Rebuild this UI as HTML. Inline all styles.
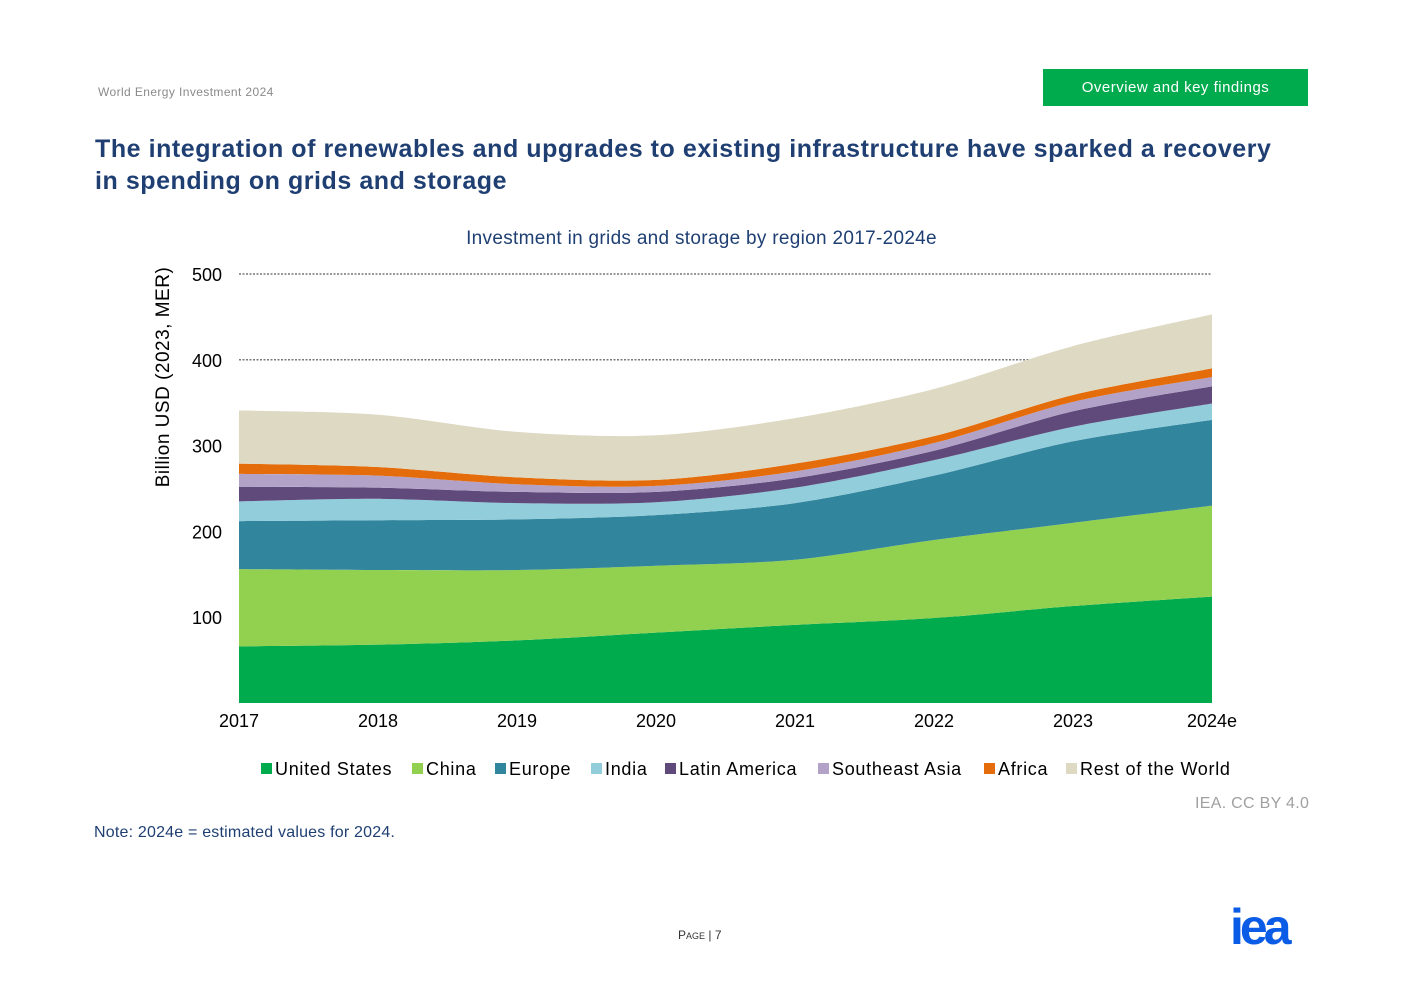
<!DOCTYPE html>
<html><head><meta charset="utf-8"><style>
body{margin:0;width:1403px;height:992px;background:#fff;font-family:"Liberation Sans",Arial,sans-serif;position:relative;overflow:hidden}
.abs{position:absolute}
</style></head><body>
<div class="abs" style="left:98px;top:85px;font-size:12px;color:#8a8a8a;letter-spacing:0.4px">World Energy Investment 2024</div>
<div class="abs" style="left:1043px;top:69px;width:265px;height:37px;background:#00ab4e;color:#fff;font-size:15px;line-height:37px;text-align:center;letter-spacing:0.5px">Overview and key findings</div>
<div class="abs" style="left:95px;top:133px;width:1205px;font-size:25px;font-weight:bold;color:#1f3f73;line-height:32px;letter-spacing:0.55px">The integration of renewables and upgrades to existing infrastructure have sparked a recovery in spending on grids and storage</div>
<div class="abs" style="left:0;width:1403px;top:228px;text-align:center;font-size:19px;color:#1f3f73;letter-spacing:0.3px">Investment in grids and storage by region 2017-2024e</div>
<svg class="abs" style="left:0;top:0" width="1403" height="992" id="chart"></svg>
<div class="abs" style="left:1195px;top:795px;font-size:16px;color:#a0a0a0;letter-spacing:0.3px">IEA. CC BY 4.0</div>
<div class="abs" style="left:94px;top:824px;font-size:16px;color:#1f3f73;letter-spacing:0.2px">Note: 2024e = estimated values for 2024.</div>
<div class="abs" style="left:678px;top:928px;font-size:12px;color:#333">P<span style="font-size:9px">AGE</span> | 7</div>
<div class="abs" style="left:1230px;top:898px;font-size:50px;font-weight:bold;color:#0a5ce6;letter-spacing:-4px">iea</div>
<script>
const years=["2017","2018","2019","2020","2021","2022","2023","2024e"];
const unitedStates=[66,68,73,82,91,99,113,124];
const china=[90,87,82,78,76,91,97,106];
const europe=[56,58,59,59,66,75,95,100];
const india=[23,25,19,15,18,18,17,19];
const latinAmerica=[17,13,13,12,11,11,18,20];
const southeastAsia=[15,14,9,7,8,9,11,11];
const africa=[12,10,8,7,9,8,8,10];
const restOfWorld=[62,61,53,52,53,55,57,63];
const yTicks=[100,200,300,400,500];
const series=[["United States",unitedStates,"#00ab4e"],["China",china,"#92d050"],["Europe",europe,"#31859c"],["India",india,"#92cddc"],["Latin America",latinAmerica,"#604a7b"],["Southeast Asia",southeastAsia,"#b3a2c7"],["Africa",africa,"#e46c0a"],["Rest of the World",restOfWorld,"#ddd9c3"]];
const NS="http://www.w3.org/2000/svg",svg=document.getElementById('chart');
const x0=239,x1=1212,y0=703,yTop=274;
const X=i=>x0+i*(x1-x0)/(years.length-1);
const Y=v=>y0-v*(y0-yTop)/500;
function mk(t,a){const e=document.createElementNS(NS,t);for(const k in a)e.setAttribute(k,a[k]);svg.appendChild(e);return e}
function curve(pts){let d="";for(let i=0;i<pts.length-1;i++){const p0=pts[Math.max(0,i-1)],p1=pts[i],p2=pts[i+1],p3=pts[Math.min(pts.length-1,i+2)];const t=0.15;
const c1=[p1[0]+(p2[0]-p0[0])*t,p1[1]+(p2[1]-p0[1])*t],c2=[p2[0]-(p3[0]-p1[0])*t,p2[1]-(p3[1]-p1[1])*t];d+=` C${c1} ${c2} ${p2}`;}return d}
let base=years.map(()=>0);
series.forEach(([name,vals,col])=>{
 const top=base.map((b,i)=>b+vals[i]);
 const tp=top.map((v,i)=>[X(i),Y(v)]),bp=base.map((v,i)=>[X(i),Y(v)]).reverse();
 const d="M"+tp[0]+curve(tp)+" L"+bp[0]+curve(bp)+"Z";
 const p=mk('path',{d,fill:col});
 
 
 base=top;
});
yTicks.forEach(v=>{
 const l=mk('line',{x1:x0,x2:x1,y1:Y(v),y2:Y(v),stroke:'#777','stroke-dasharray':'2 1.5','stroke-width':1.5});
 
 
 svg.insertBefore(l,svg.firstChild);
 const t=mk('text',{x:222,y:Y(v)+7,'text-anchor':'end','font-size':18,fill:'#000'});t.textContent=v;
 
 
});
years.forEach((y,i)=>{const t=mk('text',{x:X(i),y:727,'text-anchor':'middle','font-size':18,fill:'#000'});t.textContent=y;
 
 });
const yt=mk('text',{x:169,y:377,'text-anchor':'middle','font-size':19,'letter-spacing':0.5,transform:'rotate(-90 169 377)'});yt.textContent="Billion USD (2023, MER)";


const lx=[261,412,495,591,665,818,984,1066];
series.forEach(([name,,col],i)=>{
 const r=mk('rect',{x:lx[i],y:763,width:11,height:11,fill:col});
 
 
 const t=mk('text',{x:lx[i]+14,y:775,'font-size':18,'letter-spacing':0.7});t.textContent=name;
 
 
});
</script>
</body></html>
